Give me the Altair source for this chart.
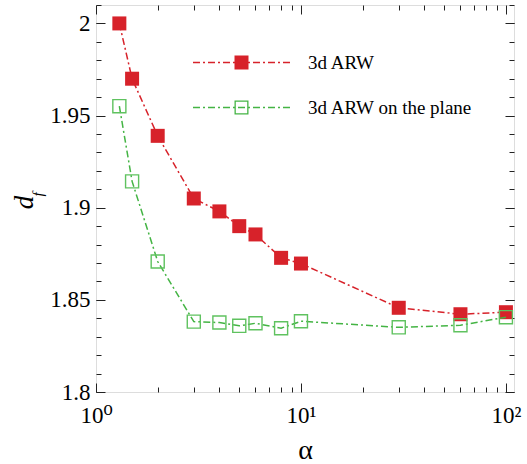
import altair as alt
import pandas as pd

# ---- data ----
alpha = [1.3, 1.5, 2, 3, 4, 5, 6, 8, 10, 30, 60, 100]
df_arw = [2.000, 1.970, 1.939, 1.905, 1.898, 1.890, 1.8855, 1.8728, 1.8697, 1.8457, 1.8422, 1.8433]
df_plane = [1.9551, 1.9143, 1.8708, 1.8382, 1.8377, 1.8359, 1.8373, 1.8346, 1.8384, 1.8351, 1.8362, 1.8406]
series_names = ["3d ARW", "3d ARW on the plane"]

x_major = [1, 10, 100]
x_minor = [2, 3, 4, 5, 6, 7, 8, 9, 20, 30, 40, 50, 60, 70, 80, 90]
y_major = [1.8, 1.85, 1.9, 1.95, 2.0]
y_minor = [round(1.8 + 0.01 * i, 2) for i in range(22)]

RED = "#d7222a"
GREEN = "#44b444"
GREEN_SQ = "#5fc25f"
FONT = "Times New Roman, Liberation Serif, Tinos, DejaVu Serif, serif"

data = pd.DataFrame({
    "alpha": alpha * 2,
    "val": df_arw + df_plane,
    "series": [series_names[0]] * len(alpha) + [series_names[1]] * len(alpha),
})

xs = alt.Scale(type="log", domain=[1, 109.5], nice=False)
ys = alt.Scale(domain=[1.8, 2.01], nice=False, zero=False)

# ---- legend symbols: dash-dot line with square, as custom paths ----
W = 97.0
r = W / 2.0


def rect(x0, x1, y0, y1, rev=False):
    p = [(x0, y0), (x1, y0), (x1, y1), (x0, y1)]
    if rev:
        p = p[::-1]
    s = "M%.4f,%.4f" % (p[0][0] / r, p[0][1] / r)
    for q in p[1:]:
        s += "L%.4f,%.4f" % (q[0] / r, q[1] / r)
    return s + "Z"


def dashdot():
    segs = []
    x = -r
    pattern = [(7, True), (3, False), (2, True), (3, False)]
    i = 0
    while x < r:
        ln, on = pattern[i % 4]
        x1 = min(x + ln, r)
        if on:
            segs.append(rect(x, x1, -0.75, 0.75))
        x = x1
        i += 1
    return "".join(segs)


line_path = dashdot()
red_sym = line_path + rect(-7, 7, -7, 7)
green_sym = line_path + rect(-7, 7, -7, 7) + rect(-5.7, 5.7, -5.7, 5.7, rev=True)

base = alt.Chart(data)

common_axis = dict(domain=False, grid=False, tickColor="#222", tickWidth=1,
                   labelFont=FONT, labelColor="black", titleColor="black")


def axis_layer(xa, ya):
    return base.mark_point(opacity=0).encode(
        x=alt.X("alpha:Q", scale=xs, axis=xa),
        y=alt.Y("val:Q", scale=ys, axis=ya),
    )


ax_main = axis_layer(
    alt.Axis(orient="bottom", values=x_major, tickSize=9, offset=-9,
             labelExpr="datum.value == 1 ? '10⁰' : datum.value == 10 ? '10¹' : '10²'",
             labelFontSize=23, labelPadding=12, labelFlush=False, labelOverlap=False,
             labelBound=False, title="α", titleFont=FONT, titleFontSize=28,
             titleFontWeight="normal", titlePadding=9, **common_axis),
    alt.Axis(orient="left", values=y_major, tickSize=9, offset=-9, format=".2~f",
             labelFontSize=23, labelPadding=6, labelOverlap=False, labelBound=False,
             title="d", titleFont=FONT, titleFontSize=27, titleFontStyle="italic",
             titleFontWeight="normal", titleX=-81, titleY=197, titleAlign="center",
             titleBaseline="middle", titleAngle=270, **common_axis),
)
ax_minor = axis_layer(
    alt.Axis(orient="bottom", values=x_minor, tickSize=5, offset=-5, labels=False,
             title=None, **common_axis),
    alt.Axis(orient="left", values=y_minor, tickSize=5, offset=-5, labels=False,
             title="f", titleFont=FONT, titleFontSize=15, titleFontStyle="italic",
             titleFontWeight="normal", titleX=-64, titleY=189, titleAlign="center",
             titleBaseline="middle", titleAngle=270, **common_axis),
)
ax_top = axis_layer(
    alt.Axis(orient="top", values=x_major, tickSize=9, offset=-9, labels=False,
             title=None, **common_axis),
    alt.Axis(orient="right", values=y_major, tickSize=9, offset=-9, labels=False,
             title=None, **common_axis),
)
ax_top_minor = axis_layer(
    alt.Axis(orient="top", values=x_minor, tickSize=5, offset=-5, labels=False,
             title=None, **common_axis),
    alt.Axis(orient="right", values=y_minor, tickSize=5, offset=-5, labels=False,
             title=None, **common_axis),
)


def series_layers(name, color, filled, pcolor):
    d = base.transform_filter(alt.datum.series == name)
    enc = dict(x=alt.X("alpha:Q", scale=xs, axis=None),
               y=alt.Y("val:Q", scale=ys, axis=None))
    ln = d.mark_line(color=color, strokeWidth=1.5, strokeDash=[7, 3, 2, 3]).encode(**enc)
    if filled:
        pt = d.mark_point(shape="square", filled=True, size=196, color=pcolor, opacity=1).encode(**enc)
    else:
        pt = d.mark_point(shape="square", filled=False, size=170, color=pcolor,
                          strokeWidth=1.4, opacity=1).encode(**enc)
    return [ln, pt]


leg = dict(orient="none", legendX=97, legendY=36, title=None, labelFont=FONT,
           labelFontSize=19, labelColor="black", labelLimit=0, symbolSize=W * W,
           symbolStrokeWidth=0, symbolOpacity=1, rowPadding=2, labelOffset=18,
           clipHeight=43)

legend_layer = base.mark_point(filled=True, opacity=0, size=W * W).encode(
    x=alt.X("alpha:Q", scale=xs, axis=None),
    y=alt.Y("val:Q", scale=ys, axis=None),
    color=alt.Color("series:N", scale=alt.Scale(domain=series_names, range=[RED, GREEN]),
                    legend=alt.Legend(**leg)),
    shape=alt.Shape("series:N", scale=alt.Scale(domain=series_names, range=[red_sym, green_sym]),
                    legend=alt.Legend(**leg)),
)

layers = [ax_main, ax_minor, ax_top, ax_top_minor]
layers += series_layers(series_names[0], RED, True, RED)
layers += series_layers(series_names[1], GREEN, False, GREEN_SQ)
layers += [legend_layer]

chart = alt.layer(*layers).resolve_axis(x="independent", y="independent").properties(
    width=418, height=387,
    autosize=alt.AutoSizeParams(type="none"),
    padding={"left": 96, "top": 5, "right": 13, "bottom": 72},
).configure_view(stroke="black", strokeWidth=1.6).configure(background="white")

chart.save("out.html", embed_options={"renderer": "svg", "actions": False})
